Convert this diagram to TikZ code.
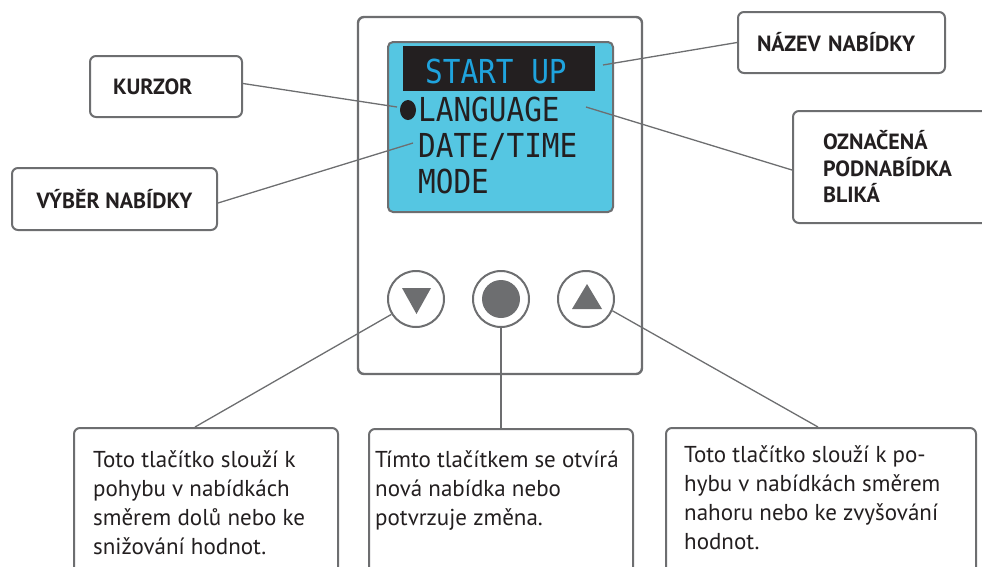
\documentclass[tikz,border=0pt]{standalone}
\usepackage{fontspec}
\usepackage{graphicx}
\usetikzlibrary{shapes.geometric}
\setmainfont{PT Sans}
\newfontfamily\lcdfont{DejaVu Sans Mono}
\definecolor{lgray}{HTML}{6D6E70}
\definecolor{scr}{HTML}{55C6E2}
\definecolor{ink}{HTML}{231F20}
\definecolor{lcdblue}{HTML}{1FA3DD}
\tikzset{
  panelbox/.style={draw=lgray, line width=2.4pt, rounded corners=6pt, fill=white, inner sep=0pt},
  labelbox/.style={draw=lgray, line width=2pt, rounded corners=6pt, fill=white, inner sep=0pt, align=left, text=ink, font=\bfseries\fontsize{22}{26.5}\selectfont},
  bodybox/.style={draw=lgray, line width=2pt, rounded corners=6pt, fill=white, inner sep=0pt},
  bodytext/.style={inner sep=0pt, anchor=base west, align=left, text=ink, font=\fontsize{23}{29}\selectfont},
  lcdtext/.style={inner sep=0pt, anchor=base west, font=\lcdfont\fontsize{33}{33}\selectfont},
  conn/.style={draw=lgray, line width=1.3pt},
  btn/.style={circle, draw=lgray, line width=2pt, fill=white, inner sep=0pt, minimum size=56pt},
}
\begin{document}
\begin{tikzpicture}[x=1pt,y=-1pt]
\useasboundingbox (0,0) rectangle (982,566);
\clip (0,0) rectangle (982,566);
% device panel
\node[panelbox, minimum width=284pt, minimum height=357pt] (panel) at (500,195.5) {};
% screen
\node[draw=lgray, line width=2pt, rounded corners=5pt, fill=scr, inner sep=0pt, minimum width=225pt, minimum height=170pt] (screen) at (500.5,127) {};
\node[fill=ink, inner sep=0pt, minimum width=192pt, minimum height=45pt] (titlebar) at (499,68.5) {};
\node[lcdtext, text=lcdblue] (title) at (425,83) {\scalebox{0.89}[1]{START UP}};
\node[fill=ink, ellipse, inner sep=0pt, minimum width=16pt, minimum height=20pt] (bullet) at (408,110) {};
\node[lcdtext, text=ink] (lang) at (418,121) {\scalebox{0.89}[1]{LANGUAGE}};
\node[lcdtext, text=ink] (datetime) at (418,157) {\scalebox{0.89}[1]{DATE/TIME}};
\node[lcdtext, text=ink] (mode) at (418,193) {\scalebox{0.89}[1]{MODE}};
% buttons
\node[btn] (bdown) at (416,299) {};
\fill[lgray] (402,288) -- (431,288) -- (416.5,314) -- cycle;
\node[btn] (bmid) at (501,299) {};
\fill[lgray] (bmid.center) circle[radius=19pt];
\node[btn] (bup) at (586,299) {};
\fill[lgray] (572,309) -- (602,309) -- (587,284) -- cycle;
% label boxes
\node[labelbox, minimum width=152pt, minimum height=61pt, text width=106pt, inner xsep=23pt] (kurzor) at (166,86.5) {KURZOR};
\node[labelbox, minimum width=205pt, minimum height=62pt] (vyber) at (114.5,199) {VÝBĚR NABÍDKY};
\node[labelbox, minimum width=207pt, minimum height=61pt, text width=169pt, inner xsep=19pt] (nazev) at (841.5,42.5) {NÁZEV NABÍDKY};
\node[labelbox, minimum width=240pt, minimum height=112pt, text width=180pt, inner xsep=30pt] (oznac) at (913,167) {OZNAČENÁ\\PODNABÍDKA\\BLIKÁ};
% connectors to screen
\coordinate (ck) at (397,107);
\coordinate (cv) at (413,143);
\coordinate (cn) at (603,65);
\coordinate (co) at (586,107);
\draw[conn] (kurzor.east) ++(0,-3) -- (ck);
\draw[conn] (vyber.east) ++(0,4) -- (cv);
\draw[conn] (nazev.west) -- (cn);
\draw[conn] (oznac.west) ++(0,3) -- (co);
% bottom boxes
\node[bodybox, minimum width=264pt, minimum height=170pt, anchor=north west] (lbox) at (73,427) {};
\node[bodybox, minimum width=264pt, minimum height=170pt, anchor=north west] (mbox) at (368,428) {};
\node[bodybox, minimum width=310pt, minimum height=170pt, anchor=north west] (rbox) at (665,427) {};
\node[bodytext] (ltext) at (93,554) {Toto tlačítko slouží k\\pohybu v nabídkách\\směrem dolů nebo ke\\snižování hodnot.};
\node[bodytext] (mtext) at (375,525) {Tímto tlačítkem se otvírá\\nová nabídka nebo\\potvrzuje změna.};
\node[bodytext] (rtext) at (684,549) {Toto tlačítko slouží k po-\\hybu v nabídkách směrem\\nahoru nebo ke zvyšování\\hodnot.};
% connectors buttons
\coordinate (cl) at (195,427);
\coordinate (cr) at (818,427);
\draw[conn] (bdown.212) -- (cl);
\draw[draw=lgray, line width=2.6pt] (bmid.south) -- (mbox.north);
\draw[conn] (bup.-24) -- (cr);
\end{tikzpicture}
\end{document}
